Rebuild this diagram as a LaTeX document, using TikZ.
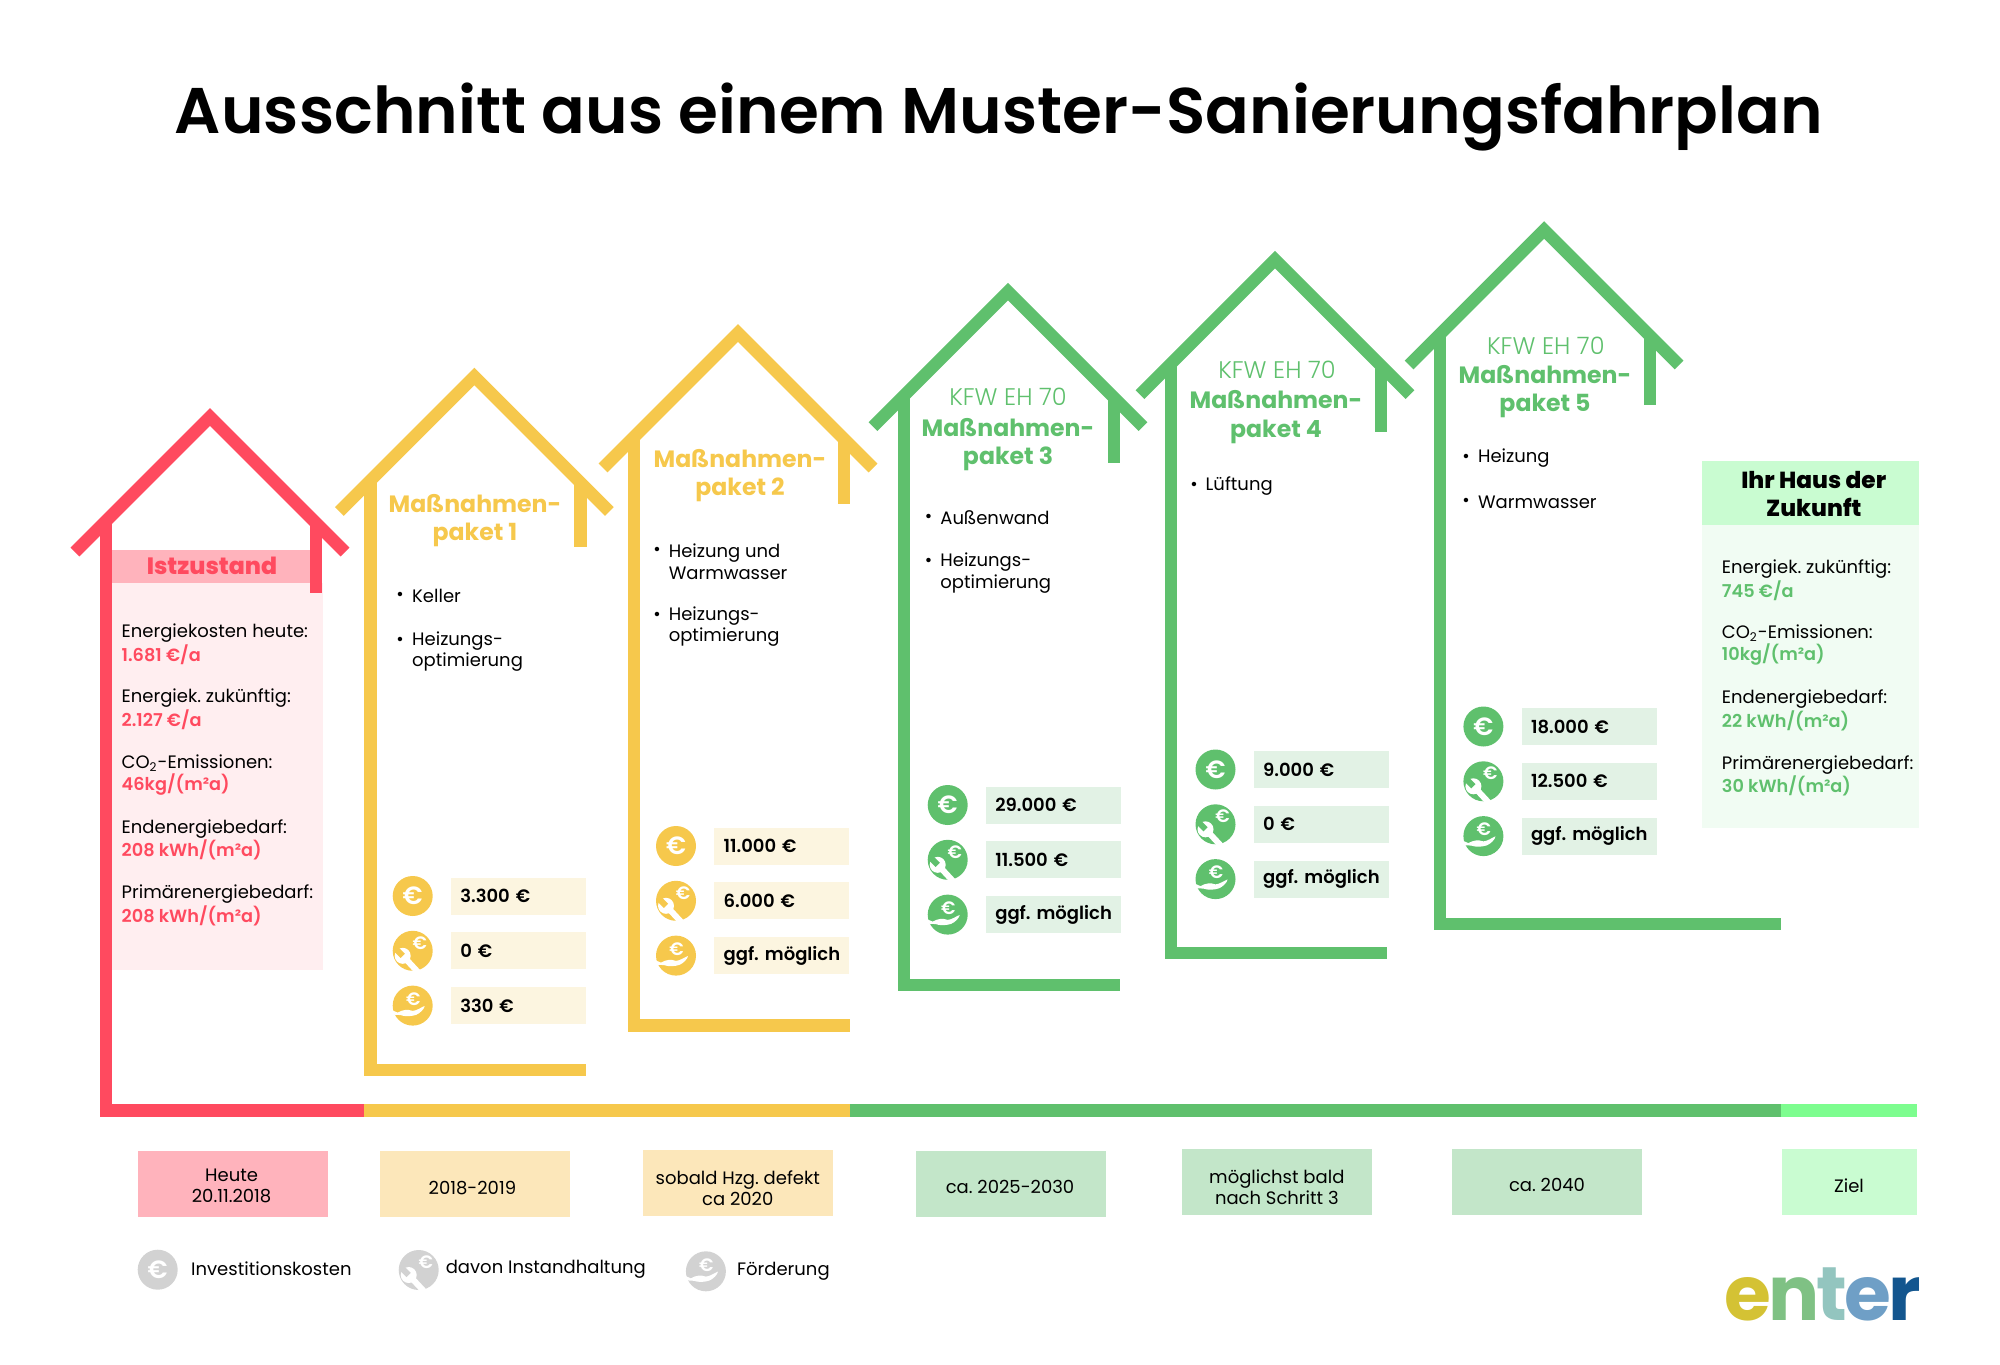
\documentclass[tikz,border=0pt]{standalone}
\usepackage{fontspec}
\setmainfont{Poppins}
\newfontfamily\plight{Poppins Light}
\newfontfamily\pmedium{Poppins Medium}
\newfontfamily\psemi{Poppins SemiBold}
\newfontfamily\pextra{Poppins ExtraBold}
\AtBeginDocument{\frenchspacing}
\usetikzlibrary{positioning}

\definecolor{redmain}{HTML}{FF4A5F}
\definecolor{redhead}{HTML}{FFB3BC}
\definecolor{redpale}{HTML}{FFEEF0}
\definecolor{yelmain}{HTML}{F6C84C}
\definecolor{yelpale}{HTML}{FCF5E0}
\definecolor{yeldate}{HTML}{FCE7BA}
\definecolor{grnmain}{HTML}{5FC06D}
\definecolor{grnpale}{HTML}{E2F2E5}
\definecolor{grndate}{HTML}{C3E6C9}
\definecolor{limemain}{HTML}{7DFD8F}
\definecolor{limehead}{HTML}{C9FCD1}
\definecolor{limepale}{HTML}{F1FCF3}
\definecolor{icongray}{HTML}{D2D2D2}

\newcommand\valred[1]{{\psemi\fontsize{8.85}{10.75}\selectfont\color{redmain}#1}}
\newcommand\valgrn[1]{{\psemi\fontsize{8.85}{10.75}\selectfont\color{grnmain}#1}}

\tikzset{
  wall/.style={line width=6.2pt,line join=miter},
  icon/.style={circle,minimum size=20pt,inner sep=0pt,text=white,font=\psemi\fontsize{12.5}{13}\selectfont},
  tinyeuro/.style={inner sep=0pt,text=white,font=\psemi\fontsize{9}{9}\selectfont},
  costbox/.style={minimum height=18.5pt,text width=58pt,inner xsep=4.75pt,inner ysep=0pt,align=left,font=\psemi\fontsize{9}{10}\selectfont},
  datebox/.style={minimum width=95pt,minimum height=33pt,inner sep=0pt},
  datetext/.style={inner sep=0pt,align=center,font=\fontsize{9}{10.5}\selectfont},
  fact/.style={anchor=west,inner sep=0pt,align=left,font=\fontsize{9}{10.75}\selectfont},
  packhead/.style={inner sep=0pt,align=center,font=\bfseries\fontsize{11.8}{14.4}\selectfont},
  kfw/.style={inner sep=0pt,text=grnmain,font=\plight\fontsize{12}{12}\selectfont},
  bullet/.style={anchor=west,inner sep=0pt,align=left,font=\fontsize{9}{10.75}\selectfont},
}

% roof, walls and floor of one house
\newcommand\drawhouse[6]{
  \draw[wall,#1] (#2-135,#3+144) -- (#2,#3+9) -- (#2+135,#3+144);
  \draw[wall,#1] (#2-104,#3+113) -- (#2-104,#5) -- (#6,#5);
  \draw[wall,#1] (#2+106,#3+115) -- (#2+106,#4);
}
\newcommand\wrenchmark[2]{
  \begin{scope}[shift={(#1.center)}]
    \fill[white] (-10,5) circle (8);
    \draw[white,line width=3pt] (-8,7) -- (5,21);
    \fill[#2] (-7.9,2.9) -- (-12.1,7.1) -- (-19.1,.1) -- (-14.9,-4.1) -- cycle;
  \end{scope}
  \node (#1e) [tinyeuro] at ([shift={(7,-7.7)}]#1.center) {€};
}
\newcommand\handmark[1]{
  \begin{scope}[shift={(#1.center)}]
    \fill[white] (-21,4.5) -- (-15,7) .. controls (-10,4) and (-5,3.5) .. (0,5.3) .. controls (4,5) and (8,2) .. (12,.3) .. controls (12,3) and (7,8) .. (3.3,9.3) .. controls (-2,11) and (-8,11) .. (-12,9.5) -- (-20,9) -- cycle;
  \end{scope}
  \node (#1e) [tinyeuro] at ([shift={(.5,-6.5)}]#1.center) {€};
}
\newcommand\costrows[8]{
  \node (#1a) [icon,fill=#2] at (#4,#5) {€};
  \node (#1b) [icon,fill=#2,below=7pt of #1a] {};
  \node (#1c) [icon,fill=#2,below=7pt of #1b] {};
  \wrenchmark{#1b}{#2}
  \handmark{#1c}
  \node (#1x) [costbox,fill=#3,right=8.65pt of #1a.east] {\mbox{#6}};
  \node (#1y) [costbox,fill=#3,right=8.65pt of #1b.east] {\mbox{#7}};
  \node (#1z) [costbox,fill=#3,right=8.65pt of #1c.east] {\mbox{#8}};
}

\begin{document}
\begin{tikzpicture}[x=0.5pt,y=-0.5pt]
  \useasboundingbox (0,0) rectangle (2000,1364);
  \node (title) [anchor=base,font=\psemi\fontsize{32.27}{33}\selectfont] at (999,134) {Ausschnitt aus einem Muster-Sanierungsfahrplan};

  % Istzustand panel
  \fill[redhead] (112,550) rectangle (310,583);
  \fill[redpale] (112,583) rectangle (323,970);
  \node (ist) [packhead,text=redmain,font=\pextra\fontsize{11.8}{14}\selectfont] at (212,566) {Istzustand};
  \node (i1) [fact] at (121.3,644) {Energiekosten heute:\\\valred{1.681 €/a}};
  \node (i2) [fact] at (121.3,709.5) {Energiek. zukünftig:\\\valred{2.127 €/a}};
  \node (i3) [fact] at (121.3,775) {CO\textsubscript{2}-Emissionen:\\\valred{46kg/(m²a)}};
  \node (i4) [fact] at (121.3,840) {Endenergiebedarf:\\\valred{208 kWh/(m²a)}};
  \node (i5) [fact] at (121.3,905.5) {Primärenergiebedarf:\\\valred{208 kWh/(m²a)}};

  % the five houses and the time rail
  \drawhouse{redmain}{210}{408}{593}{1110.5}{364.3}
  \drawhouse{yelmain}{474.3}{367.5}{546.5}{1070}{586}
  \drawhouse{yelmain}{738}{324}{504}{1025.5}{849.5}
  \drawhouse{grnmain}{1008}{282.7}{463.3}{984.7}{1120}
  \drawhouse{grnmain}{1275}{250.7}{431.7}{952.8}{1386.5}
  \drawhouse{grnmain}{1544}{221}{405}{924}{1780.6}
  \draw[wall,line width=6.5pt,yelmain] (364.3,1110.5) -- (850,1110.5);
  \draw[wall,line width=6.5pt,grnmain] (850,1110.5) -- (1780.7,1110.5);
  \draw[wall,line width=6.5pt,limemain] (1780.7,1110.5) -- (1917.3,1110.5);

  % package 1
  \node (p1) [packhead,text=yelmain] at (475,520.5) {Maßnahmen-\\paket 1};
  \node (b1a) [bullet] at (396,596) {•};
  \node (t1a) [bullet] at (411.8,596) {Keller};
  \node (b1b) [bullet] at (396,641) {•};
  \node (t1b) [bullet] at (411.8,651.5) {Heizungs-\\optimierung};
  \costrows{k}{yelmain}{yelpale}{412.7}{896}{3.300 €}{0 €}{330 €}

  % package 2
  \node (p2) [packhead,text=yelmain] at (740,475.5) {Maßnahmen-\\paket 2};
  \node (b2a) [bullet] at (653,551) {•};
  \node (t2a) [bullet] at (668.4,561.5) {Heizung und\\Warmwasser};
  \node (b2b) [bullet] at (653,616) {•};
  \node (t2b) [bullet] at (668.4,626.5) {Heizungs-\\optimierung};
  \costrows{l}{yelmain}{yelpale}{676}{846}{11.000 €}{6.000 €}{ggf. möglich}

  % package 3
  \node (k3) [kfw] at (1008,397) {KFW EH 70};
  \node (p3) [packhead,text=grnmain] at (1008,444.5) {Maßnahmen-\\paket 3};
  \node (b3a) [bullet] at (924.5,518) {•};
  \node (t3a) [bullet] at (940,518) {Außenwand};
  \node (b3b) [bullet] at (924.5,562) {•};
  \node (t3b) [bullet] at (940,573) {Heizungs-\\optimierung};
  \costrows{m}{grnmain}{grnpale}{947.7}{805}{29.000 €}{11.500 €}{ggf. möglich}

  % package 4
  \node (k4) [kfw] at (1277,370) {KFW EH 70};
  \node (p4) [packhead,text=grnmain] at (1276,417) {Maßnahmen-\\paket 4};
  \node (b4a) [bullet] at (1190,486) {•};
  \node (t4a) [bullet] at (1205.3,486) {Lüftung};
  \costrows{n}{grnmain}{grnpale}{1215.5}{769.5}{9.000 €}{0 €}{ggf. möglich}

  % package 5
  \node (k5) [kfw] at (1545.8,346) {KFW EH 70};
  \node (p5) [packhead,text=grnmain] at (1545,391.5) {Maßnahmen-\\paket 5};
  \node (b5a) [bullet] at (1462,458.5) {•};
  \node (t5a) [bullet] at (1477.7,458.5) {Heizung};
  \node (b5b) [bullet] at (1462,502) {•};
  \node (t5b) [bullet] at (1477.7,502) {Warmwasser};
  \costrows{o}{grnmain}{grnpale}{1483.4}{726.5}{18.000 €}{12.500 €}{ggf. möglich}

  % house of the future
  \fill[limehead] (1702,461) rectangle (1919,524.5);
  \fill[limepale] (1702,524.5) rectangle (1919,828);
  \node (fut) [packhead,font=\pextra\fontsize{11.6}{14.4}\selectfont] at (1813.7,494) {Ihr Haus der\\Zukunft};
  \node (z1) [fact] at (1721.5,580) {Energiek. zukünftig:\\\valgrn{745 €/a}};
  \node (z2) [fact] at (1721.5,645) {CO\textsubscript{2}-Emissionen:\\\valgrn{10kg/(m²a)}};
  \node (z3) [fact] at (1721.5,710.5) {Endenergiebedarf:\\\valgrn{22 kWh/(m²a)}};
  \node (z4) [fact] at (1721.5,776) {Primärenergiebedarf:\\\valgrn{30 kWh/(m²a)}};

  % dates
  \node (d0) [datebox,fill=redhead] at (233.4,1184) {};
  \node (d1) [datebox,fill=yeldate] at (475,1184.3) {};
  \node (d2) [datebox,fill=yeldate] at (737.5,1183.3) {};
  \node (d3) [datebox,fill=grndate] at (1011,1183.6) {};
  \node (d4) [datebox,fill=grndate] at (1276.7,1182) {};
  \node (d5) [datebox,fill=grndate] at (1547,1182) {};
  \node (d6) [datebox,minimum width=67.5pt,fill=limehead] at (1849.8,1181.5) {};
  \node (t0) [datetext] at (231.6,1185.5) {Heute\\20.11.2018};
  \node (t1) [datetext] at (472.4,1188) {2018-2019};
  \node (t2) [datetext] at (737.8,1188.5) {sobald Hzg. defekt\\ca 2020};
  \node (t3) [datetext] at (1010,1187) {ca. 2025-2030};
  \node (t4) [datetext] at (1276.8,1187.5) {möglichst bald\\nach Schritt 3};
  \node (t5) [datetext] at (1547,1185) {ca. 2040};
  \node (t6) [datetext] at (1849,1186) {Ziel};

  % legend
  \node (g1) [icon,fill=icongray] at (157.7,1269.7) {€};
  \node (g2) [icon,fill=icongray] at (418.7,1270) {};
  \node (g3) [icon,fill=icongray] at (705.9,1271.3) {};
  \wrenchmark{g2}{icongray}
  \handmark{g3}
  \node (l1) [fact] at (190.8,1269) {Investitionskosten};
  \node (l2) [fact] at (445.4,1269) {davon Instandhaltung};
  \node (l3) [fact] at (736.7,1271) {Förderung};

  \node (logo) [anchor=base west,inner sep=0pt,font=\bfseries\fontsize{38}{39}\selectfont] at (1724,1320) {\color[HTML]{D4C234}e\kern-1.4pt\color[HTML]{7FC184}n\kern-1.4pt\color[HTML]{93C5BF}t\kern-1.4pt\color[HTML]{6F9FC6}e\kern-1.4pt\color[HTML]{13568F}r};
\end{tikzpicture}
\end{document}
